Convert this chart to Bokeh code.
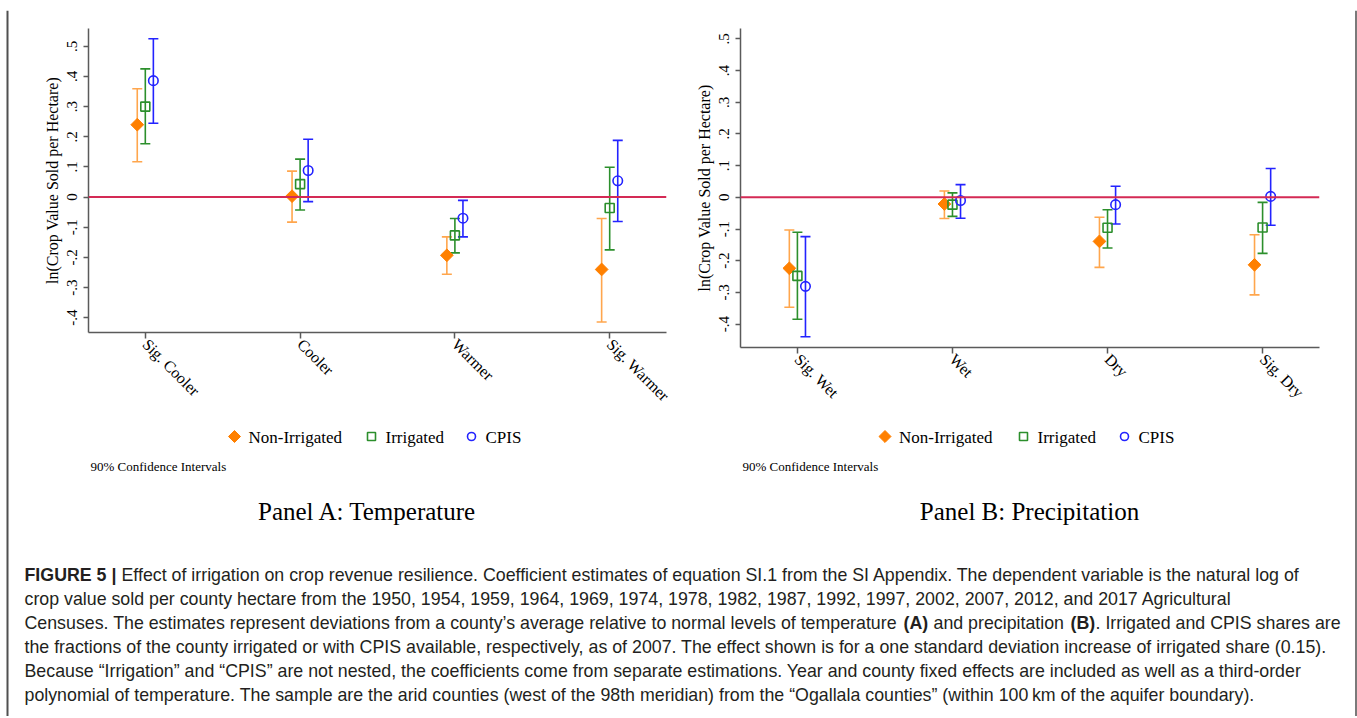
import math
from bokeh.plotting import figure
from bokeh.models import (ColumnDataSource, FixedTicker, Span, Whisker, TeeHead, Range1d)
from bokeh.layouts import column, row
from bokeh.transform import dodge
from bokeh.embed import file_html
from bokeh.resources import INLINE
from bokeh.core.properties import value

# ---------------- data ----------------
temp_categories = ["Sig. Cooler", "Cooler", "Warmer", "Sig. Warmer"]
precip_categories = ["Sig. Wet", "Wet", "Dry", "Sig. Dry"]
series_names = ["Non-Irrigated", "Irrigated", "CPIS"]

temp_nonirr = [0.240, 0.003, -0.193, -0.240]
temp_nonirr_lo = [0.117, -0.083, -0.256, -0.414]
temp_nonirr_hi = [0.359, 0.086, -0.132, -0.071]
temp_irr = [0.300, 0.043, -0.127, -0.036]
temp_irr_lo = [0.177, -0.043, -0.185, -0.175]
temp_irr_hi = [0.425, 0.126, -0.071, 0.099]
temp_cpis = [0.386, 0.088, -0.070, 0.054]
temp_cpis_lo = [0.245, -0.015, -0.132, -0.081]
temp_cpis_hi = [0.525, 0.192, -0.011, 0.188]

precip_nonirr = [-0.224, -0.021, -0.139, -0.213]
precip_nonirr_lo = [-0.347, -0.067, -0.221, -0.308]
precip_nonirr_hi = [-0.103, 0.020, -0.063, -0.118]
precip_irr = [-0.248, -0.023, -0.096, -0.095]
precip_irr_lo = [-0.385, -0.060, -0.160, -0.177]
precip_irr_hi = [-0.110, 0.014, -0.039, -0.016]
precip_cpis = [-0.281, -0.010, -0.023, 0.003]
precip_cpis_lo = [-0.440, -0.066, -0.084, -0.088]
precip_cpis_hi = [-0.124, 0.040, 0.035, 0.091]

y_ticks = [-0.4, -0.3, -0.2, -0.1, 0.0, 0.1, 0.2, 0.3, 0.4, 0.5]
y_tick_labels = ["-.4", "-.3", "-.2", "-.1", "0", ".1", ".2", ".3", ".4", ".5"]
y_axis_title = "ln(Crop Value Sold per Hectare)"
note_text = "90% Confidence Intervals"
panel_titles = ["Panel A: Temperature", "Panel B: Precipitation"]

caption_segments = [
    # (line, text, bold, x_page)
    (0, "FIGURE 5 |", True, 24),
    (0, "Effect of irrigation on crop revenue resilience. Coefficient estimates of equation SI.1 from the SI Appendix. The dependent variable is the natural log of", False, 121),
    (1, "crop value sold per county hectare from the 1950, 1954, 1959, 1964, 1969, 1974, 1978, 1982, 1987, 1992, 1997, 2002, 2007, 2012, and 2017 Agricultural", False, 24),
    (2, "Censuses. The estimates represent deviations from a county\u2019s average relative to normal levels of temperature", False, 24),
    (2, "(A)", True, 903),
    (2, "and precipitation", False, 933),
    (2, "(B)", True, 1070),
    (2, ". Irrigated and CPIS shares are", False, 1095),
    (3, "the fractions of the county irrigated or with CPIS available, respectively, as of 2007. The effect shown is for a one standard deviation increase of irrigated share (0.15).", False, 24),
    (4, "Because \u201cIrrigation\u201d and \u201cCPIS\u201d are not nested, the coefficients come from separate estimations. Year and county fixed effects are included as well as a third-order", False, 24),
    (5, "polynomial of temperature. The sample are the arid counties (west of the 98th meridian) from the \u201cOgallala counties\u201d (within 100\u2009km of the aquifer boundary).", False, 24),
]

# ---------------- styles / layout ----------------
SERIF = "Liberation Serif"
MARK_COLORS = ["#ff8000", "#2c8f2c", "#2323ff"]
CI_COLORS = ["#ffa64d", "#2c8f2c", "#2323ff"]
OFFSETS = [-0.052, 0.0, 0.052]
AXIS_COLOR = "#5a5a5a"
ZERO_COLOR = "#d42a55"
BORDER_COLOR = "#505050"

PAGE_W = 1357
TOP_STRIP_H = 10
SIDE_W = 9
MAIN_W = PAGE_W - 2 * SIDE_W
SPLIT_X = 688
LEG_ROW_BOTTOM = 540
PAGE_BOTTOM = 716

# frame geometry in page pixels: (left, right, top, bottom)
FRAME_A = (88, 666, 28, 332)
FRAME_B = (740, 1319, 28, 347)
A_BOTTOM = 420      # page y where panel A figure ends
B_BOTTOM = 418      # page y where panel B figure ends


def blank(width, height, xr, yr, mb=(0, 0)):
    p = figure(width=width, height=height, output_backend="svg", toolbar_location=None,
               x_range=Range1d(*xr), y_range=Range1d(*yr),
               x_axis_type=None, y_axis_type=None, min_border=0)
    p.min_border_left = mb[0]
    p.min_border_right = mb[1]
    p.outline_line_color = None
    p.xgrid.visible = False
    p.ygrid.visible = False
    p.background_fill_alpha = 0
    p.border_fill_alpha = 0
    return p


def make_panel(cats, vals, x0, x1, frame, bottom, yr):
    p = figure(width=x1 - x0, height=bottom - TOP_STRIP_H, output_backend="svg",
               toolbar_location=None, x_range=Range1d(0.633, 4.367), y_range=Range1d(*yr))
    p.min_border_left = frame[0] - x0
    p.min_border_right = x1 - frame[1]
    p.min_border_top = frame[2] - TOP_STRIP_H
    p.min_border_bottom = bottom - frame[3]
    p.outline_line_color = None
    p.xgrid.visible = False
    p.ygrid.visible = False

    pos = list(range(1, len(cats) + 1))
    for i, (mid, lo, hi) in enumerate(vals):
        src = ColumnDataSource(dict(pos=pos, mid=mid, lo=lo, hi=hi))
        xs = dodge("pos", OFFSETS[i])
        p.add_layout(Whisker(base=xs, upper="hi", lower="lo", source=src, dimension="height",
                             line_color=CI_COLORS[i], line_width=1.6,
                             upper_head=TeeHead(size=10, line_color=CI_COLORS[i], line_width=1.6),
                             lower_head=TeeHead(size=10, line_color=CI_COLORS[i], line_width=1.6)))
        if i == 0:
            p.scatter(x=xs, y="mid", source=src, marker="square", angle=math.pi / 4,
                      size=9, fill_color=MARK_COLORS[i], line_color=MARK_COLORS[i])
        elif i == 1:
            p.scatter(x=xs, y="mid", source=src, marker="square", size=9, fill_alpha=0,
                      line_color=MARK_COLORS[i], line_width=1.6)
        else:
            p.scatter(x=xs, y="mid", source=src, marker="circle", size=9.5, fill_alpha=0,
                      line_color=MARK_COLORS[i], line_width=1.6)

    p.add_layout(Span(location=0, dimension="width", line_color=ZERO_COLOR, line_width=2))

    xa = p.xaxis[0]
    xa.ticker = FixedTicker(ticks=pos)
    xa.major_label_overrides = {k: c for k, c in zip(pos, cats)}
    xa.major_label_orientation = -math.pi / 4
    xa.major_label_text_font = SERIF
    xa.major_label_text_font_size = "16px"
    xa.major_label_text_color = "black"
    xa.major_label_standoff = 3
    xa.axis_line_color = AXIS_COLOR
    xa.axis_line_width = 1.5
    xa.major_tick_line_color = AXIS_COLOR
    xa.major_tick_line_width = 1.5
    xa.major_tick_out = 6
    xa.major_tick_in = 0
    xa.minor_tick_line_color = None

    ya = p.yaxis[0]
    ya.ticker = FixedTicker(ticks=y_ticks)
    ya.major_label_overrides = {t: s for t, s in zip(y_ticks, y_tick_labels)}
    ya.major_label_orientation = "vertical"
    ya.major_label_text_font = SERIF
    ya.major_label_text_font_size = "15px"
    ya.major_label_text_color = "black"
    ya.major_label_standoff = 6
    ya.axis_label = y_axis_title
    ya.axis_label_text_font = SERIF
    ya.axis_label_text_font_size = "16px"
    ya.axis_label_text_font_style = "normal"
    ya.axis_label_text_color = "black"
    ya.axis_label_standoff = 4
    ya.axis_line_color = AXIS_COLOR
    ya.axis_line_width = 1.5
    ya.major_tick_line_color = AXIS_COLOR
    ya.major_tick_line_width = 1.5
    ya.major_tick_out = 5
    ya.major_tick_in = 0
    ya.minor_tick_line_color = None
    return p


def make_legend_strip(x0, x1, frame, y_top, swatch_x, note_x, title_cx, title):
    # frame aligned with the panel above: data x == page x
    p = blank(x1 - x0, LEG_ROW_BOTTOM - y_top, (frame[0], frame[1]), (LEG_ROW_BOTTOM, y_top),
              mb=(frame[0] - x0, x1 - frame[1]))
    ly = 436
    p.scatter(x=[swatch_x[0]], y=[ly], marker="square", angle=math.pi / 4, size=8.5,
              fill_color=MARK_COLORS[0], line_color=MARK_COLORS[0])
    p.scatter(x=[swatch_x[1]], y=[ly], marker="square", size=8, fill_alpha=0,
              line_color=MARK_COLORS[1], line_width=1.6)
    p.scatter(x=[swatch_x[2]], y=[ly], marker="circle", size=8, fill_alpha=0,
              line_color=MARK_COLORS[2], line_width=1.6)
    p.text(x=[sx + 14 for sx in swatch_x], y=[ly + 1] * 3, text=series_names,
           text_font=value(SERIF), text_font_size="17px", text_baseline="middle",
           text_align="left", text_color="black")
    p.text(x=[note_x], y=[466], text=[note_text], text_font=value(SERIF), text_font_size="13px",
           text_baseline="middle", text_align="left", text_color="black")
    p.text(x=[title_cx], y=[511], text=[title], text_font=value(SERIF), text_font_size="25px",
           text_baseline="middle", text_align="center", text_color="black")
    return p


temp_vals = [(temp_nonirr, temp_nonirr_lo, temp_nonirr_hi),
             (temp_irr, temp_irr_lo, temp_irr_hi),
             (temp_cpis, temp_cpis_lo, temp_cpis_hi)]
precip_vals = [(precip_nonirr, precip_nonirr_lo, precip_nonirr_hi),
               (precip_irr, precip_irr_lo, precip_irr_hi),
               (precip_cpis, precip_cpis_lo, precip_cpis_hi)]

RIGHT_X = PAGE_W - SIDE_W
pA = make_panel(temp_categories, temp_vals, SIDE_W, SPLIT_X, FRAME_A, A_BOTTOM, (-0.449, 0.559))
pB = make_panel(precip_categories, precip_vals, SPLIT_X, RIGHT_X, FRAME_B, B_BOTTOM, (-0.474, 0.533))

legA = make_legend_strip(SIDE_W, SPLIT_X, FRAME_A, A_BOTTOM, [234, 371, 471], 90, 367, panel_titles[0])
legB = make_legend_strip(SPLIT_X, RIGHT_X, FRAME_B, B_BOTTOM, [884.5, 1023, 1124], 742, 1029, panel_titles[1])

# caption
pc = blank(MAIN_W, PAGE_BOTTOM - LEG_ROW_BOTTOM, (SIDE_W, RIGHT_X), (PAGE_BOTTOM, LEG_ROW_BOTTOM))
line_y_page = [574, 598, 622, 646, 670, 694]
cap_src = ColumnDataSource(dict(
    x=[s[3] for s in caption_segments],
    y=[line_y_page[s[0]] for s in caption_segments],
    text=[s[1] for s in caption_segments],
    style=["bold" if s[2] else "normal" for s in caption_segments],
))
pc.text(x="x", y="y", text="text", source=cap_src, text_font=value("Liberation Sans"),
        text_font_size="17.8px", text_font_style="style", text_baseline="middle",
        text_align="left", text_color="#231f20")

# border strips
top = blank(PAGE_W, TOP_STRIP_H, (0, PAGE_W), (TOP_STRIP_H, 0))
top.segment(x0=[6], y0=[9], x1=[1356.5], y1=[9], line_color=BORDER_COLOR, line_width=2)
left = blank(SIDE_W, PAGE_BOTTOM - TOP_STRIP_H, (0, SIDE_W), (PAGE_BOTTOM, TOP_STRIP_H))
left.add_layout(Span(location=7, dimension="height", line_color=BORDER_COLOR, line_width=2))
right = blank(SIDE_W, PAGE_BOTTOM - TOP_STRIP_H, (RIGHT_X, PAGE_W), (PAGE_BOTTOM, TOP_STRIP_H))
right.add_layout(Span(location=1355.5, dimension="height", line_color="#7a7a7a", line_width=2))

main = column(row(column(pA, legA), column(pB, legB)), pc)
layout = column(top, row(left, main, right))
with open("out.html", "w") as f:
    f.write(file_html(layout, INLINE))
